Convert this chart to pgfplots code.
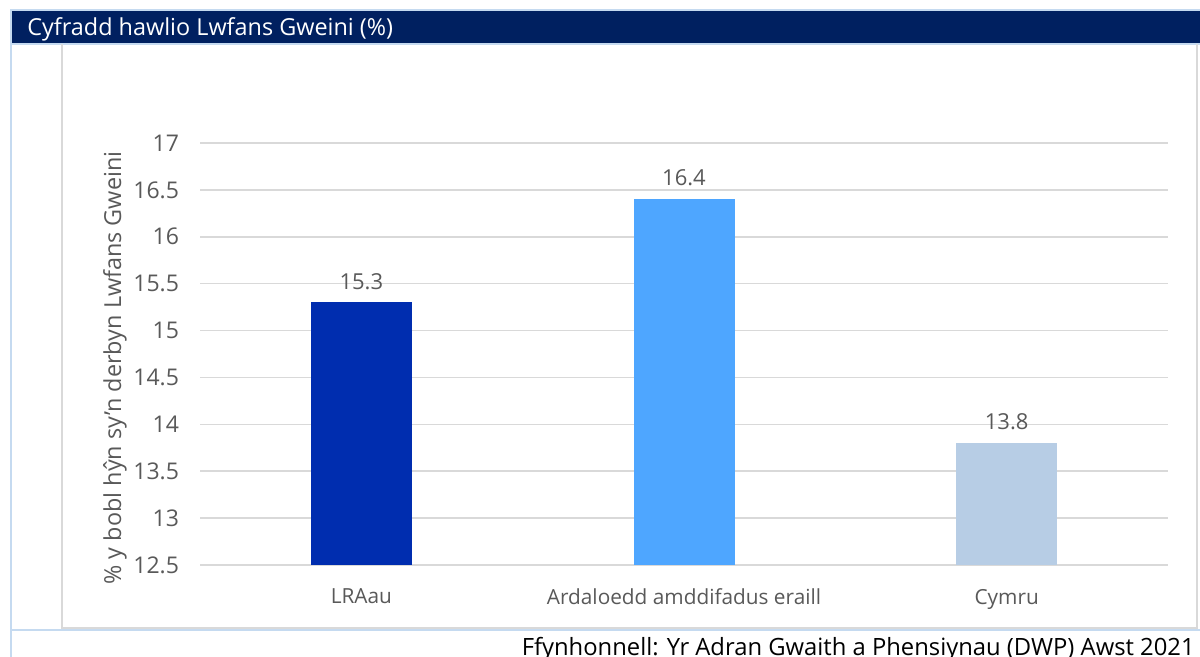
\documentclass[border=0pt]{standalone}
\usepackage{pgfplots}
\pgfplotsset{compat=1.18}
\usepackage{fontspec}
\setmainfont{Open Sans}
\definecolor{navy}{HTML}{002060}
\definecolor{lblue}{HTML}{C5DAF0}
\definecolor{framec}{HTML}{D9D9D9}
\definecolor{c1}{HTML}{002DAF}
\definecolor{c2}{HTML}{4EA6FF}
\definecolor{c3}{HTML}{B7CDE5}
\definecolor{txt}{HTML}{595959}
\begin{document}
\begin{tikzpicture}
\begin{scope}[x=0.5pt,y=-0.5pt]
\useasboundingbox (0,0) rectangle (1200,657);
\clip (0,0) rectangle (1200,657);
\fill[white] (0,0) rectangle (1200,657);
\fill[navy] (11,11) rectangle (1200,43.5);
\draw[lblue, line width=1pt] (10,10) -- (1200,10);
\draw[lblue, line width=1pt] (11,10) -- (11,657);
\draw[lblue, line width=1pt] (11,44) -- (1200,44);
\draw[lblue, line width=1pt] (11,630) -- (1200,630);
\draw[framec, line width=1pt] (62,44.5) -- (62,628) -- (1196.5,628) -- (1196.5,44.5);
\node[anchor=base west, text=white, font=\fontsize{11.7}{14}\selectfont, inner sep=0pt] at (27,36) {Cyfradd hawlio Lwfans Gweini (\%)};
\node[anchor=base east, text=black, font=\fontsize{11.9}{14}\selectfont, inner sep=0pt] at (1195,655) {Ffynhonnell: Yr Adran Gwaith a Phensiynau (DWP) Awst 2021};
\end{scope}
\begin{axis}[
  at={(100pt,-282.5pt)}, anchor=south west,
  width=484pt, height=211pt, scale only axis,
  xmin=-0.5, xmax=2.5, ymin=12.5, ymax=17,
  xtick={0,1,2}, xticklabels={LRAau, Ardaloedd amddifadus eraill, Cymru},
  ytick={12.5,13,13.5,14,14.5,15,15.5,16,16.5,17},
  yticklabels={12.5,13,13.5,14,14.5,15,15.5,16,16.5,17},
  ymajorgrids, major grid style={framec, line width=0.75pt},
  axis line style={draw=none}, major tick length=0pt,
  tick label style={text=txt},
  yticklabel style={font=\fontsize{11.5}{13}\selectfont, xshift=-7pt},
  xticklabel style={font=\fontsize{10.4}{12}\selectfont, yshift=-8.5pt},
  ylabel={\% y bobl hŷn sy’n derbyn Lwfans Gweini},
  ylabel style={at={(axis description cs:-0.0878,0.467)}, anchor=center, rotate=0, font=\fontsize{11.7}{13}\selectfont, text=txt},
  every node near coord/.append style={font=\fontsize{11}{13}\selectfont, text=txt, anchor=south, yshift=3pt},
  point meta=explicit symbolic,
]
\addplot[ybar, bar width=50.5pt, bar shift=0pt, fill=c1, draw=none, nodes near coords] coordinates {(0,15.3) [15.3]};
\addplot[ybar, bar width=50.5pt, bar shift=0pt, fill=c2, draw=none, nodes near coords] coordinates {(1,16.4) [16.4]};
\addplot[ybar, bar width=50.5pt, bar shift=0pt, fill=c3, draw=none, nodes near coords] coordinates {(2,13.8) [13.8]};
\end{axis}
\end{tikzpicture}
\end{document}
